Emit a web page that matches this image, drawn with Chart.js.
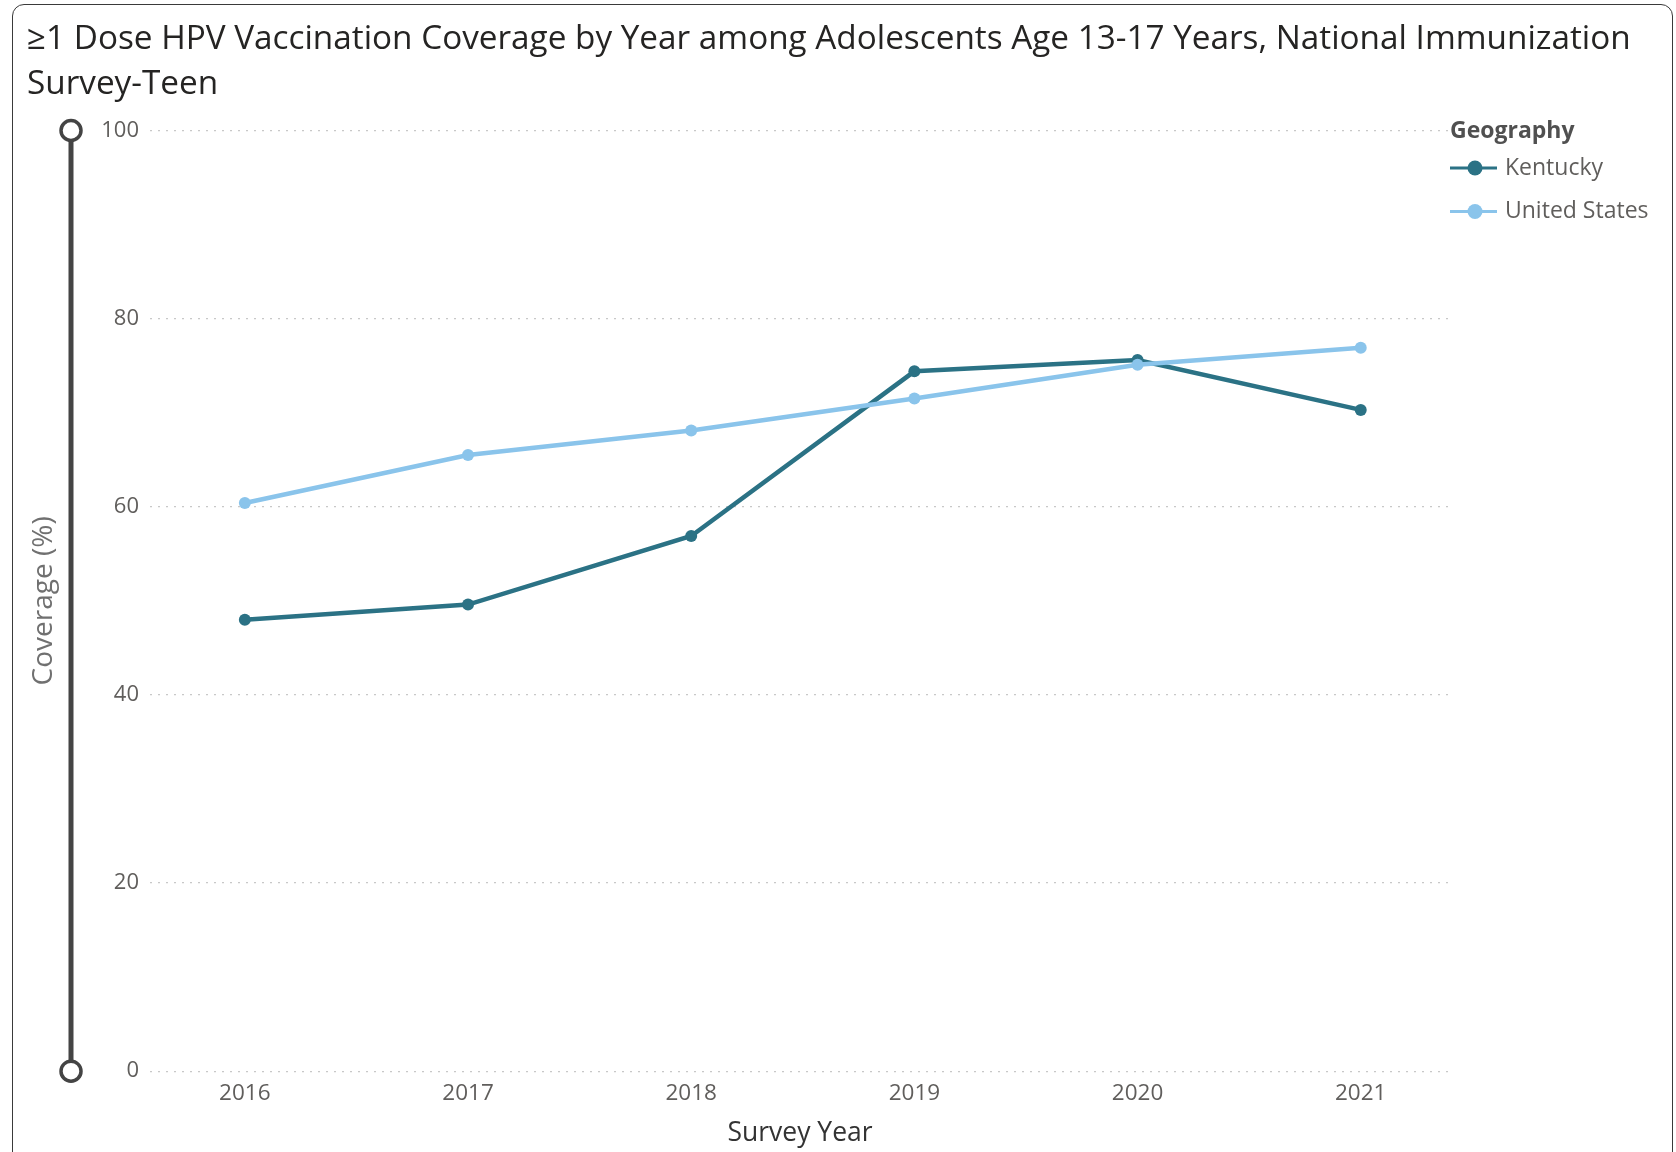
<!DOCTYPE html>
<html>
<head>
<meta charset="utf-8">
<script src="https://cdn.jsdelivr.net/npm/chart.js@4.4.1/dist/chart.umd.min.js"></script>
<style>
  html, body { margin: 0; padding: 0; background: #fff; }
  body { width: 1676px; height: 1152px; position: relative; overflow: hidden; }
  .card { position: absolute; left: 12px; top: 4px; width: 1661px; height: 1190px;
          border: 1.5px solid #3a3a3a; border-radius: 12px; box-sizing: border-box; }
  #hpv_chart { position: absolute; left: 0; top: 0; }
</style>
</head>
<body>
<div class="card"></div>
<canvas id="hpv_chart" width="1676" height="1152"></canvas>
<script>
// survey years and coverage (%)
const years = [2016, 2017, 2018, 2019, 2020, 2021];
const kentucky = [48.0, 49.6, 56.9, 74.4, 75.6, 70.3];
const unitedStates = [60.4, 65.5, 68.1, 71.5, 75.1, 76.9];
const yTicks = [0, 20, 40, 60, 80, 100];

const seriesNames = ['Kentucky', 'United States'];
const seriesColors = ['#2B7285', '#8AC4EB'];

const FONT = "'Open Sans', 'Noto Sans', sans-serif";

function toPoints(values) {
    return values.map((v, i) => ({ x: years[i], y: v }));
}

// the vertical range slider Power BI draws next to the y axis
const rangeSlider = {
    id: 'rangeSlider',
    afterDraw(chart) {
        const ctx = chart.ctx;
        const y = chart.scales.y;
        const top = y.getPixelForValue(yTicks[yTicks.length - 1]);
        const bottom = y.getPixelForValue(yTicks[0]);
        const x = chart.chartArea.left - 79;
        ctx.save();
        ctx.strokeStyle = '#444444';
        ctx.lineWidth = 5;
        ctx.beginPath();
        ctx.moveTo(x, top);
        ctx.lineTo(x, bottom);
        ctx.stroke();
        ctx.lineWidth = 3.5;
        ctx.fillStyle = '#ffffff';
        [top, bottom].forEach(cy => {
            ctx.beginPath();
            ctx.arc(x, cy, 10, 0, Math.PI * 2);
            ctx.fill();
            ctx.stroke();
        });
        ctx.restore();
    }
};

// legend in the right margin: "Geography" + line/dot markers
const geoLegend = {
    id: 'geoLegend',
    afterDraw(chart) {
        const ctx = chart.ctx;
        const left = chart.chartArea.right;
        const top = chart.chartArea.top;
        ctx.save();
        ctx.textBaseline = 'middle';
        ctx.textAlign = 'left';
        ctx.fillStyle = '#505050';
        ctx.font = 'bold 23px ' + FONT;
        ctx.fillText('Geography', left, top + 1);
        ctx.font = '23px ' + FONT;
        seriesNames.forEach((name, i) => {
            const cy = top + 37.5 + i * 43.5;
            ctx.strokeStyle = seriesColors[i];
            ctx.fillStyle = seriesColors[i];
            ctx.lineWidth = 3;
            ctx.beginPath();
            ctx.moveTo(left, cy);
            ctx.lineTo(left + 47, cy);
            ctx.stroke();
            ctx.beginPath();
            ctx.arc(left + 25, cy, 7.5, 0, Math.PI * 2);
            ctx.fill();
            ctx.fillStyle = '#605E5C';
            ctx.fillText(name, left + 55, cy);
        });
        ctx.restore();
    }
};

new Chart(
    document.getElementById('hpv_chart'),
    {
        type: 'line',
        data: {
            datasets: [
                {
                    label: seriesNames[0],
                    data: toPoints(kentucky),
                    borderColor: seriesColors[0],
                    backgroundColor: seriesColors[0],
                    order: 1,
                },
                {
                    label: seriesNames[1],
                    data: toPoints(unitedStates),
                    borderColor: seriesColors[1],
                    backgroundColor: seriesColors[1],
                    order: 0,
                },
            ]
        },
        options: {
            responsive: false,
            animation: false,
            layout: {
                padding: { left: 27, right: 10, top: 0, bottom: 0 }
            },
            elements: {
                line: { borderWidth: 4.5, tension: 0 },
                point: { radius: 6, borderWidth: 0, hoverRadius: 6 }
            },
            plugins: {
                legend: { display: false },
                tooltip: { enabled: false },
                title: {
                    display: true,
                    align: 'start',
                    text: ['\u22651 Dose HPV Vaccination Coverage by Year among Adolescents Age 13-17 Years, National Immunization', 'Survey-Teen'],
                    color: '#252423',
                    font: { family: FONT, size: 33.3, weight: 'normal', lineHeight: '45px' },
                    padding: { top: 17, bottom: 23.5 }
                }
            },
            scales: {
                x: {
                    type: 'linear',
                    min: 2015.575,
                    max: 2021.4,
                    afterBuildTicks: axis => { axis.ticks = years.map(v => ({ value: v })); },
                    grid: { display: false, drawTicks: false },
                    border: { display: false },
                    ticks: {
                        padding: 9,
                        color: '#605E5C',
                        font: { family: FONT, size: 22.5 },
                        callback: v => String(v)
                    },
                    title: {
                        display: true,
                        text: 'Survey Year',
                        color: '#333333',
                        font: { family: FONT, size: 26.5 },
                        padding: { top: 1, bottom: 3 }
                    }
                },
                y: {
                    min: 0,
                    max: 100,
                    afterBuildTicks: axis => { axis.ticks = yTicks.map(v => ({ value: v })); },
                    afterFit: axis => { axis.width = 123; },
                    grid: {
                        color: '#C8C8C8',
                        lineWidth: 1.2,
                        drawTicks: false
                    },
                    border: { display: false, dash: [2, 6] },
                    ticks: {
                        padding: 11,
                        color: '#605E5C',
                        font: { family: FONT, size: 22 }
                    },
                    title: {
                        display: true,
                        text: 'Coverage (%)',
                        color: '#707070',
                        font: { family: FONT, size: 28 },
                        padding: { top: 0, bottom: 0 }
                    }
                },
                legendSpace: {
                    type: 'linear',
                    position: 'right',
                    display: true,
                    grid: { display: false, drawTicks: false },
                    border: { display: false },
                    ticks: { display: false },
                    afterFit: axis => { axis.width = 216; }
                }
            }
        },
        plugins: [rangeSlider, geoLegend]
    }
);
</script>
</body>
</html>
